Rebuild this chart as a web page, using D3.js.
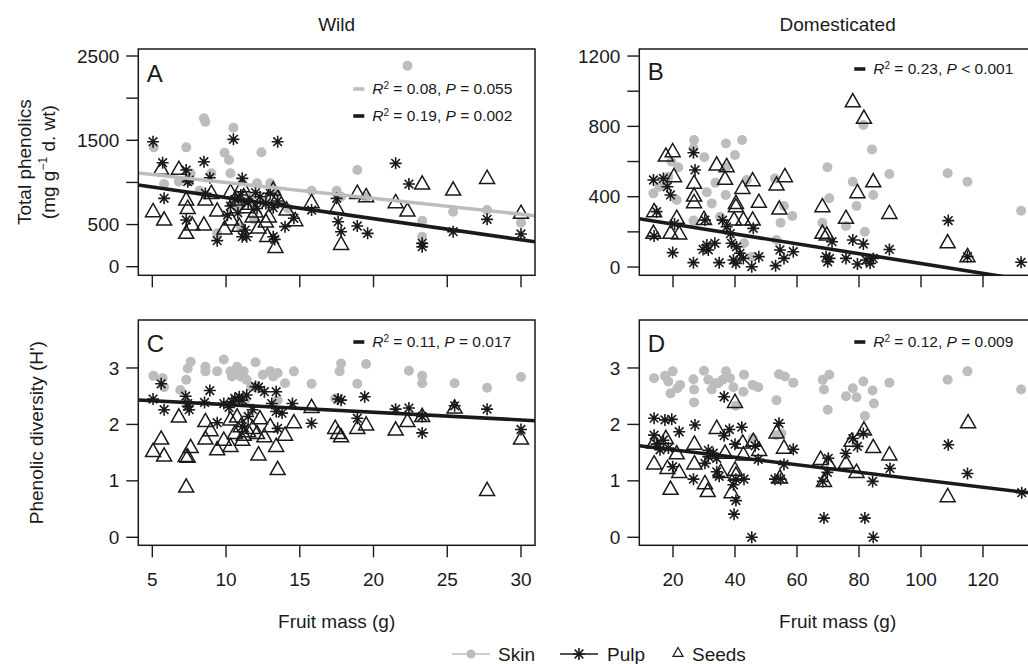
<!DOCTYPE html>
<html>
<head>
<meta charset="utf-8">
<script src="https://cdn.jsdelivr.net/npm/d3@7"></script>
<style>
  body { margin: 0; background: #fff; }
  svg { display: block; font-family: "Liberation Sans", Arial, sans-serif; }
</style>
</head>
<body>
<svg id="chart"></svg>
<script>
// ---- data: [fruit mass (g), value] ----
const wildSkinTotal = [[22.3,2385],[8.5,1760],[8.6,1720],[10.5,1650],[5.1,1416],[7.3,1416],[9.9,1353],[10.2,1266],[12.4,1357],[10.3,1108],[6.8,1009],[5.8,981],[7.6,1108],[18.9,1147],[12.1,989],[13.0,989],[9.0,1108],[15.8,902],[17.5,902],[17.8,831],[23.3,546],[23.3,356],[25.4,653],[27.7,672],[30.0,522],[9.4,396],[11.0,475],[11.6,820],[12.7,760],[10.8,700],[13.4,870],[14.2,690],[11.9,560],[8.2,900],[19.5,830]];
const wildPulpTotal = [[5.05,1483],[5.7,1234],[5.8,811],[7.3,1147],[7.5,1028],[7.4,1009],[7.3,554],[8.5,1246],[8.9,1056],[8.6,870],[10.5,1511],[11.1,1048],[13.5,1483],[9.4,309],[11.1,356],[11.4,356],[11.3,435],[13.2,356],[13.3,324],[14.0,475],[14.6,574],[15.8,672],[17.5,811],[17.6,534],[17.8,415],[18.9,483],[19.6,396],[21.5,1226],[22.4,981],[23.3,277],[23.3,237],[25.4,415],[27.7,562],[30.0,388],[10.1,613],[10.3,720],[10.6,800],[11.0,850],[11.5,760],[12.0,880],[12.3,830],[12.7,750],[13.0,870],[13.2,700],[13.5,780],[10.8,640],[12.1,690]];
const wildSeedTotal = [[5.05,653],[5.8,554],[5.6,1155],[6.8,1155],[7.3,791],[7.4,692],[7.3,396],[7.7,494],[8.5,494],[8.6,791],[9.0,870],[9.4,661],[9.9,447],[10.3,882],[10.35,554],[10.6,791],[11.1,949],[11.2,830],[11.4,700],[11.8,590],[12.0,650],[12.2,460],[12.7,530],[12.9,590],[12.8,360],[13.35,229],[13.2,910],[13.5,811],[14.1,672],[14.7,546],[15.8,760],[17.5,692],[17.8,265],[18.9,870],[19.5,831],[21.5,760],[22.3,661],[23.3,981],[25.4,910],[27.7,1048],[30.0,633],[10.9,480],[11.6,740]];

const domSkinTotal = [[26.8,722],[37.1,703],[42.3,722],[26.6,675],[30.1,624],[40,637],[37.3,571],[33.7,480],[30.9,425],[37,410],[32.5,362],[21.7,567],[18.5,514],[13.7,419],[15.6,457],[21.2,381],[26.6,264],[43.8,495],[52.9,504],[55.8,347],[54.7,252],[58.5,290],[69.8,567],[70.4,391],[68.2,252],[75.8,233],[78,485],[79.2,347],[81.4,808],[84.2,669],[84.6,410],[81.9,201],[89.8,529],[108.6,533],[115,485],[132.3,320],[42.9,135],[45.4,59],[53.4,154],[35.2,286],[19.5,600],[17.5,470]];
const domPulpTotal = [[13.7,495],[16.9,504],[18.2,457],[19.2,410],[14.7,315],[13.9,176],[19.9,82],[26.6,650],[27.1,552],[26.6,25],[30.3,267],[30.9,125],[31.4,97],[33.5,135],[34.9,25],[36,267],[37.3,229],[38.9,135],[39.5,40],[40.3,21],[41.6,78],[42.7,49],[45.4,2],[45.9,220],[47.7,59],[53.1,8],[54.5,97],[55.8,49],[58.8,87],[69.4,59],[69.9,30],[70.5,49],[71.3,144],[75.8,49],[78,154],[79.5,17],[81.4,131],[82.3,40],[83.6,21],[84.6,49],[89.8,100],[108.8,264],[115,59],[132.3,27],[20.5,245],[29.7,100],[40.5,115],[38.5,190]];
const domSeedTotal = [[13.9,315],[13.7,192],[17.7,631],[19.9,656],[20.3,514],[21.2,277],[19.2,192],[22,188],[26.8,476],[26.8,404],[26.8,366],[30,271],[34.1,580],[37.3,571],[36.8,499],[40.3,362],[40.3,343],[42.4,447],[42.7,267],[45.7,491],[45.7,267],[47.7,368],[39.7,267],[53.4,466],[54.3,330],[56.1,514],[68.2,343],[68.2,192],[69.6,182],[75.8,277],[78,940],[79.5,423],[81.6,846],[84.6,485],[89.8,305],[108.6,138],[115,59]];

const wildSkinDiv = [[5.07,2.86],[5.7,2.82],[5.8,2.66],[6.9,2.61],[7.3,2.79],[7.6,3.11],[7.4,2.99],[8.6,3.02],[8.6,2.94],[9.4,2.94],[9.85,3.15],[10.3,2.94],[10.4,2.85],[10.75,3.02],[11.0,2.85],[11.2,2.94],[11.4,2.79],[11.7,2.67],[12.0,3.10],[13.0,2.94],[13.2,2.85],[13.5,2.91],[14.0,2.73],[14.6,2.94],[15.8,2.72],[17.4,2.46],[17.7,2.94],[17.8,3.08],[18.9,2.72],[19.5,3.07],[22.4,2.95],[23.3,2.86],[23.3,2.73],[25.5,2.73],[27.7,2.65],[30.0,2.84],[11.3,2.43],[13.5,2.43],[10.6,2.90],[12.5,2.88]];
const wildPulpDiv = [[5.05,2.45],[5.6,2.72],[5.8,2.26],[7.26,2.50],[7.4,2.32],[7.5,2.26],[7.4,2.37],[8.54,2.39],[8.9,2.60],[9.4,2.03],[9.85,2.37],[10.2,2.30],[10.4,2.40],[10.6,2.46],[10.9,2.49],[11.1,2.43],[11.4,2.52],[11.8,2.26],[12.0,2.67],[12.2,2.66],[12.6,2.58],[11.5,2.14],[11.1,1.96],[13.1,2.37],[13.4,2.23],[13.4,2.58],[13.5,1.93],[13.8,2.20],[14.5,2.37],[15.8,2.02],[17.6,2.45],[17.8,2.43],[18.9,2.11],[19.4,2.49],[21.5,2.27],[22.4,2.29],[23.3,2.14],[23.3,1.85],[25.5,2.33],[27.7,2.27],[30.0,1.91]];
const wildSeedDiv = [[5.05,1.52],[5.6,1.74],[5.8,1.44],[6.8,2.13],[7.26,1.43],[7.4,1.42],[7.3,0.89],[7.6,1.59],[8.6,2.05],[8.6,1.74],[8.95,1.89],[9.4,1.55],[9.85,1.72],[10.3,1.61],[10.3,2.08],[10.6,1.84],[10.75,2.13],[11.0,1.96],[11.1,1.72],[11.2,1.81],[11.5,1.87],[11.8,1.93],[12.1,1.84],[12.3,2.10],[12.2,1.46],[12.6,1.78],[13.0,1.96],[13.4,1.61],[13.5,1.20],[14.0,1.81],[14.6,2.03],[15.8,2.30],[17.4,1.93],[17.6,1.84],[17.8,1.78],[18.9,1.93],[19.5,1.99],[21.5,1.90],[22.3,2.05],[23.3,2.14],[25.5,2.29],[27.7,0.83],[30.0,1.74]];

const domSkinDiv = [[13.9,2.82],[17.4,2.86],[19.9,2.94],[18.5,2.76],[19.2,2.55],[21.4,2.64],[22.3,2.70],[26.6,2.80],[26.8,2.62],[26.8,2.39],[30.0,2.95],[31.4,2.79],[32.5,2.62],[33.5,2.73],[34.6,2.73],[36,2.79],[37.1,2.94],[38.4,2.82],[39.5,2.66],[40.3,2.33],[42.7,2.58],[42.9,2.88],[45.7,2.70],[47.5,2.66],[53.4,2.43],[54.2,2.89],[56.1,2.85],[58.8,2.74],[53.4,1.81],[55,1.84],[45.7,1.75],[68.3,2.79],[68.7,2.62],[70.4,2.88],[69.9,2.26],[75.8,2.50],[78,2.64],[79.2,2.48],[81.4,2.76],[84.4,2.60],[84.8,2.37],[81.9,2.15],[89.8,2.74],[108.6,2.79],[115,2.94],[132.3,2.62]];
const domPulpDiv = [[13.9,2.11],[13.9,1.81],[17.4,2.08],[19.6,2.09],[22,1.87],[14.7,1.65],[15.8,1.55],[16.9,1.72],[18.5,1.58],[19.9,1.25],[27.1,1.99],[26.6,1.03],[31.4,1.54],[31.4,1.43],[33,1.49],[34.1,1.40],[30.3,1.31],[34.1,1.16],[34.9,1.08],[36.5,2.49],[36.5,1.80],[38.2,1.91],[42.2,1.95],[40,1.65],[39.5,0.93],[40.3,1.03],[40.3,0.65],[39.7,0.41],[45.4,0.0],[42.9,1.03],[47.5,1.38],[46.5,1.62],[54.2,2.02],[52.9,1.03],[54.7,1.03],[55.8,1.29],[58.8,1.56],[68.3,0.99],[68.7,0.34],[70.1,1.40],[69.8,1.15],[75.7,1.49],[78,1.75],[79.5,1.61],[81.4,1.84],[81.9,0.34],[84.4,0.99],[84.6,0.0],[90,1.22],[108.8,1.64],[115,1.13],[132.5,0.79]];
const domSeedDiv = [[13.9,1.67],[13.9,1.30],[17.7,1.75],[18.2,1.22],[19.2,0.85],[21.2,1.48],[22,1.15],[26.9,1.65],[26.9,1.30],[30.3,0.95],[31.2,0.81],[34.1,1.93],[35.4,1.15],[36.8,1.49],[40,2.39],[40,1.19],[40.3,1.10],[38.9,0.79],[42.5,1.67],[42.7,1.46],[45.9,1.70],[47.8,1.54],[53.4,1.85],[54.5,1.05],[55.8,1.58],[67.6,1.38],[68.7,0.99],[70.1,1.31],[75.8,1.31],[77.6,1.70],[79.2,1.15],[81.6,1.90],[84.6,1.59],[89.8,1.46],[108.6,0.72],[115.2,2.03]];

// regression fits: [intercept, slope]
const fitsA = [[1188, -18.85], [1070, -25.0]];
const fitsB = [[300, -2.8]];
const fitsC = [[2.488, -0.01364]];
const fitsD = [[1.684, -0.00664]];

// annotation text: [R2, P part]
const notesA = [["0.08", "= 0.055"], ["0.19", "= 0.002"]];
const notesB = [["0.23", "< 0.001"]];
const notesC = [["0.11", "= 0.017"]];
const notesD = [["0.12", "= 0.009"]];

const wildMassTicks = [5, 10, 15, 20, 25, 30];
const domMassTicks = [20, 40, 60, 80, 100, 120];
const totalWildTicks = [0, 500, 1000, 1500, 2000, 2500];
const totalWildLabels = [0, 500, 1500, 2500];
const totalDomTicks = [0, 200, 400, 600, 800, 1000, 1200];
const totalDomLabels = [0, 400, 800, 1200];
const diversityTicks = [0, 1, 2, 3];

const columnTitles = ["Wild", "Domesticated"];
const legendLabels = ["Skin", "Pulp", "Seeds"];

// ---- layout ----
const width = 1028, height = 664;
const ink = "#1a1a1a";
const grey = "#bdbdbd";
const fontSize = 19;

const svg = d3.select("#chart").attr("width", width).attr("height", height);

const starPath = (r) => {
  const d = r * 0.72;
  return `M0,${-r}L0,${r}M${-r},0L${r},0M${-d},${-d}L${d},${d}M${-d},${d}L${d},${-d}`;
};
const triPath = (s) => {
  const h = s * 0.88;
  return `M0,${-h * 0.62}L${s / 2},${h * 0.38}L${-s / 2},${h * 0.38}Z`;
};

function drawPanel(cfg) {
  const w = cfg.right - cfg.left;
  const h = cfg.bottom - cfg.top;
  const x = d3.scaleLinear().domain(cfg.xDomain).range([0, w]);
  const y = d3.scaleLinear().domain(cfg.yDomain).range([h, 0]);

  const g = svg.append("g").attr("transform", `translate(${cfg.left},${cfg.top})`);

  const clipId = `clip-${cfg.letter}`;
  g.append("clipPath").attr("id", clipId)
    .append("rect").attr("width", w).attr("height", h);

  const plot = g.append("g").attr("clip-path", `url(#${clipId})`);

  // skin dots
  plot.append("g").selectAll("circle")
    .data(cfg.skin)
    .join("circle")
    .attr("cx", (d) => x(d[0]))
    .attr("cy", (d) => y(d[1]))
    .attr("r", 5)
    .attr("fill", grey);

  // pulp stars
  plot.append("g").selectAll("path")
    .data(cfg.pulp)
    .join("path")
    .attr("transform", (d) => `translate(${x(d[0])},${y(d[1])})`)
    .attr("d", starPath(6))
    .attr("fill", "none")
    .attr("stroke", ink)
    .attr("stroke-width", 1.6);

  // seed triangles
  plot.append("g").selectAll("path")
    .data(cfg.seeds)
    .join("path")
    .attr("transform", (d) => `translate(${x(d[0])},${y(d[1])})`)
    .attr("d", triPath(15))
    .attr("fill", "none")
    .attr("stroke", ink)
    .attr("stroke-width", 1.5);

  // regression lines over the full x range
  plot.append("g").selectAll("line")
    .data(cfg.fits)
    .join("line")
    .attr("x1", x(cfg.xDomain[0]))
    .attr("x2", x(cfg.xDomain[1]))
    .attr("y1", (d) => y(d[0] + d[1] * cfg.xDomain[0]))
    .attr("y2", (d) => y(d[0] + d[1] * cfg.xDomain[1]))
    .attr("stroke", (d, i) => cfg.fitColours[i])
    .attr("stroke-width", 3.6);

  // frame
  g.append("rect")
    .attr("width", w).attr("height", h)
    .attr("fill", "none").attr("stroke", ink).attr("stroke-width", 1.5);

  // y ticks
  const yAxis = g.append("g");
  yAxis.selectAll("line")
    .data(cfg.yTicks)
    .join("line")
    .attr("x1", -12).attr("x2", 0)
    .attr("y1", (d) => y(d)).attr("y2", (d) => y(d))
    .attr("stroke", ink).attr("stroke-width", 1.4);
  yAxis.selectAll("text")
    .data(cfg.yLabels)
    .join("text")
    .attr("x", -19)
    .attr("y", (d) => y(d))
    .attr("dy", "0.35em")
    .attr("text-anchor", "end")
    .attr("font-size", fontSize)
    .attr("fill", ink)
    .text((d) => d);

  // x ticks
  const xAxis = g.append("g").attr("transform", `translate(0,${h})`);
  xAxis.selectAll("line")
    .data(cfg.xTicks)
    .join("line")
    .attr("x1", (d) => x(d)).attr("x2", (d) => x(d))
    .attr("y1", 0).attr("y2", 12)
    .attr("stroke", ink).attr("stroke-width", 1.4);
  if (cfg.xLabels) {
    xAxis.selectAll("text")
      .data(cfg.xTicks)
      .join("text")
      .attr("x", (d) => x(d))
      .attr("y", 34)
      .attr("dy", "0.35em")
      .attr("text-anchor", "middle")
      .attr("font-size", fontSize)
      .attr("fill", ink)
      .text((d) => d);
    g.append("text")
      .attr("x", w / 2)
      .attr("y", h + 76)
      .attr("dy", "0.35em")
      .attr("text-anchor", "middle")
      .attr("font-size", fontSize)
      .attr("fill", ink)
      .text("Fruit mass (g)");
  }

  // panel letter
  g.append("text")
    .attr("x", 8.5).attr("y", cfg.letterY)
    .attr("font-size", 24)
    .attr("fill", ink)
    .text(cfg.letter);

  // R2 / P annotations
  cfg.notes.forEach((note, i) => {
    const ny = cfg.noteY[i];
    g.append("line")
      .attr("x1", 215).attr("x2", 226)
      .attr("y1", ny).attr("y2", ny)
      .attr("stroke", cfg.fitColours[i]).attr("stroke-width", 3.6);
    const t = g.append("text")
      .attr("x", 234).attr("y", ny)
      .attr("dy", "0.35em")
      .attr("font-size", 15.5)
      .attr("fill", ink);
    t.append("tspan").attr("font-style", "italic").text("R");
    t.append("tspan").attr("font-size", 10).attr("dy", "-0.55em").text("2");
    t.append("tspan").attr("dy", "0.35em").text(` = ${note[0]}, `);
    t.append("tspan").attr("font-style", "italic").text("P");
    t.append("tspan").text(` ${note[1]}`);
  });
}

const panels = [
  { letter: "A", left: 138.3, right: 535, top: 49, bottom: 275.3,
    xDomain: [4.05, 30.95], yDomain: [-102, 2583],
    xTicks: wildMassTicks, yTicks: totalWildTicks, yLabels: totalWildLabels, xLabels: false,
    skin: wildSkinTotal, pulp: wildPulpTotal, seeds: wildSeedTotal,
    fits: fitsA, fitColours: [grey, ink], notes: notesA, noteY: [40, 67], letterY: 33 },
  { letter: "B", left: 639.3, right: 1036, top: 49, bottom: 275.3,
    xDomain: [9.13, 137.1], yDomain: [-47, 1240],
    xTicks: domMassTicks, yTicks: totalDomTicks, yLabels: totalDomLabels, xLabels: false,
    skin: domSkinTotal, pulp: domPulpTotal, seeds: domSeedTotal,
    fits: fitsB, fitColours: [ink], notes: notesB, noteY: [20], letterY: 31 },
  { letter: "C", left: 138.3, right: 535, top: 320, bottom: 545.3,
    xDomain: [4.05, 30.95], yDomain: [-0.142, 3.85],
    xTicks: wildMassTicks, yTicks: diversityTicks, yLabels: diversityTicks, xLabels: true,
    skin: wildSkinDiv, pulp: wildPulpDiv, seeds: wildSeedDiv,
    fits: fitsC, fitColours: [ink], notes: notesC, noteY: [22], letterY: 32 },
  { letter: "D", left: 639.3, right: 1036, top: 320, bottom: 545.3,
    xDomain: [9.13, 137.1], yDomain: [-0.142, 3.85],
    xTicks: domMassTicks, yTicks: diversityTicks, yLabels: diversityTicks, xLabels: true,
    skin: domSkinDiv, pulp: domPulpDiv, seeds: domSeedDiv,
    fits: fitsD, fitColours: [ink], notes: notesD, noteY: [22], letterY: 32 },
];

panels.forEach(drawPanel);

// column titles
svg.selectAll(".col-title")
  .data(columnTitles)
  .join("text")
  .attr("class", "col-title")
  .attr("x", (d, i) => (panels[i].left + panels[i].right) / 2)
  .attr("y", 24)
  .attr("dy", "0.35em")
  .attr("text-anchor", "middle")
  .attr("font-size", fontSize)
  .attr("fill", ink)
  .text((d) => d);

// y axis titles
const topMid = (49 + 275.3) / 2;
const botMid = (320 + 545.3) / 2;
const t1 = svg.append("text")
  .attr("transform", `translate(24,${topMid}) rotate(-90)`)
  .attr("text-anchor", "middle").attr("dy", "0.35em")
  .attr("font-size", fontSize).attr("fill", ink)
  .text("Total phenolics");
const t2 = svg.append("text")
  .attr("transform", `translate(48,${topMid}) rotate(-90)`)
  .attr("text-anchor", "middle").attr("dy", "0.35em")
  .attr("font-size", fontSize).attr("fill", ink);
t2.append("tspan").text("(mg g");
t2.append("tspan").attr("font-size", 12).attr("dy", "-0.6em").text("\u22121");
t2.append("tspan").attr("dy", "0.38em").text(" d. wt)");
svg.append("text")
  .attr("transform", `translate(36,${botMid}) rotate(-90)`)
  .attr("text-anchor", "middle").attr("dy", "0.35em")
  .attr("font-size", fontSize).attr("fill", ink)
  .text("Phenolic diversity (H')");

// legend
const legend = svg.append("g").attr("transform", "translate(0,654)");
legend.append("line").attr("x1", 452).attr("x2", 490).attr("stroke", grey).attr("stroke-width", 1.6);
legend.append("circle").attr("cx", 471).attr("r", 4.5).attr("fill", grey);
legend.append("line").attr("x1", 560).attr("x2", 598).attr("stroke", ink).attr("stroke-width", 1.6);
legend.append("path").attr("transform", "translate(579,0)").attr("d", starPath(6))
  .attr("fill", "none").attr("stroke", ink).attr("stroke-width", 1.6);
legend.append("path").attr("transform", "translate(678,-1)").attr("d", triPath(10))
  .attr("fill", "none").attr("stroke", ink).attr("stroke-width", 1.2);
legend.selectAll(".lab")
  .data(legendLabels)
  .join("text")
  .attr("class", "lab")
  .attr("x", (d, i) => [498, 607, 692][i])
  .attr("dy", "0.35em")
  .attr("font-size", fontSize)
  .attr("fill", ink)
  .text((d) => d);
</script>
</body>
</html>
